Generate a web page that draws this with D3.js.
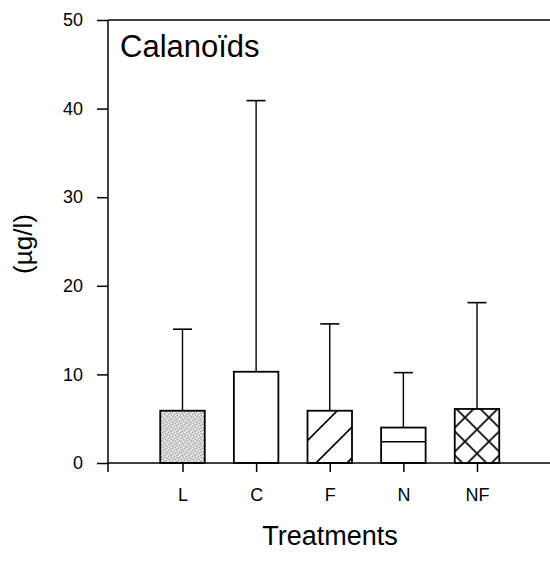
<!DOCTYPE html>
<html>
<head>
<meta charset="utf-8">
<script src="https://cdn.jsdelivr.net/npm/d3@7"></script>
<style>
  html, body { margin: 0; padding: 0; background: #fff; }
  svg { display: block; }
  text { font-family: "Liberation Sans", Arial, sans-serif; fill: #000; }
</style>
</head>
<body>
<div id="chart"></div>
<script>
// Calanoid biomass per treatment: bar = mean, whisker = upper range
const categories = ["L", "C", "F", "N", "NF"];
const means      = [5.9, 10.3, 5.9, 4.0, 6.1];
const uppers     = [15.1, 40.9, 15.7, 10.2, 18.1];
const medians    = [null, null, null, 2.4, null];
const fills      = ["stipple", "none", "hatch", "none", "cross"];
const yTicks     = [0, 10, 20, 30, 40, 50];

const W = 550, H = 564;
const plotLeft = 108, plotRight = 551, plotTop = 20, plotBottom = 463;

const svg = d3.select("#chart").append("svg")
  .attr("width", W).attr("height", H);

const defs = svg.append("defs");

// light grey stipple
const st = defs.append("pattern").attr("id", "stipple")
  .attr("patternUnits", "userSpaceOnUse").attr("width", 6).attr("height", 6);
st.append("rect").attr("width", 6).attr("height", 6).attr("fill", "#d6d6d6");
[[0,0],[3,1],[1,3],[4,4],[2,5],[5,2]].forEach(([a,b]) =>
  st.append("rect").attr("x", a).attr("y", b).attr("width", 1).attr("height", 1).attr("fill", "#999"));
[[1,1],[4,0],[0,4],[3,3],[5,5]].forEach(([a,b]) =>
  st.append("rect").attr("x", a).attr("y", b).attr("width", 1).attr("height", 1).attr("fill", "#f2f2f2"));

// single diagonal hatch
const sp = 31;
const ht = defs.append("pattern").attr("id", "hatch")
  .attr("patternUnits", "userSpaceOnUse").attr("width", sp).attr("height", sp)
  .attr("x", 4).attr("y", 0);
ht.append("path").attr("d", `M0,${sp} L${sp},0 M${-sp/2},${sp/2} L${sp/2},${-sp/2} M${sp/2},${sp*1.5} L${sp*1.5},${sp/2}`)
  .attr("stroke", "#000").attr("stroke-width", 1.6).attr("fill", "none");

// cross hatch
const cp = 24;
const cr = defs.append("pattern").attr("id", "cross")
  .attr("patternUnits", "userSpaceOnUse").attr("width", cp).attr("height", cp)
  .attr("x", 465 - cp/2).attr("y", 441.5 - cp/2);
cr.append("path").attr("d", `M0,0 L${cp},${cp} M0,${cp} L${cp},0`)
  .attr("stroke", "#000").attr("stroke-width", 1.6).attr("fill", "none");

const x = d3.scalePoint().domain(categories).range([182.5, 477]);
const y = d3.scaleLinear().domain([0, 50]).range([plotBottom, plotTop]);
const barW = 44.5, capW = 19;

// frame
svg.append("line").attr("x1", plotLeft).attr("x2", plotRight).attr("y1", plotTop).attr("y2", plotTop)
  .attr("stroke", "#000").attr("stroke-width", 1.5);

const data = categories.map((c, i) => ({ c, mean: means[i], up: uppers[i], med: medians[i], fill: fills[i] }));

// whiskers
const g = svg.append("g");
g.selectAll("line.wh").data(data).join("line").attr("class", "wh")
  .attr("x1", d => x(d.c)).attr("x2", d => x(d.c))
  .attr("y1", d => y(d.mean)).attr("y2", d => y(d.up))
  .attr("stroke", "#000").attr("stroke-width", 1.4);
g.selectAll("line.cap").data(data).join("line").attr("class", "cap")
  .attr("x1", d => x(d.c) - capW/2).attr("x2", d => x(d.c) + capW/2)
  .attr("y1", d => y(d.up)).attr("y2", d => y(d.up))
  .attr("stroke", "#000").attr("stroke-width", 1.6);

// bars
g.selectAll("rect.bar").data(data).join("rect").attr("class", "bar")
  .attr("x", d => x(d.c) - barW/2).attr("width", barW)
  .attr("y", d => y(d.mean)).attr("height", d => y(0) - y(d.mean))
  .attr("fill", d => d.fill === "none" ? "#fff" : `url(#${d.fill})`)
  .attr("stroke", "#000").attr("stroke-width", 1.8);

g.selectAll("line.med").data(data.filter(d => d.med != null)).join("line").attr("class", "med")
  .attr("x1", d => x(d.c) - barW/2).attr("x2", d => x(d.c) + barW/2)
  .attr("y1", d => y(d.med)).attr("y2", d => y(d.med))
  .attr("stroke", "#000").attr("stroke-width", 1.6);

// y axis
const yAxis = svg.append("g").attr("transform", `translate(${plotLeft},0)`)
  .call(d3.axisLeft(y).tickValues(yTicks).tickSize(11).tickPadding(14).tickFormat(d3.format("d")));
yAxis.select(".domain").remove();
yAxis.selectAll(".tick line").attr("stroke", "#000").attr("stroke-width", 1.5);
yAxis.selectAll(".tick text").style("font-size", "18px").attr("fill", "#000");
svg.append("line").attr("x1", plotLeft).attr("x2", plotLeft).attr("y1", plotTop).attr("y2", plotBottom + 9)
  .attr("stroke", "#000").attr("stroke-width", 1.5);

// x axis
const xAxis = svg.append("g").attr("transform", `translate(0,${plotBottom})`)
  .call(d3.axisBottom(x).tickSize(9).tickPadding(16));
xAxis.select(".domain").remove();
xAxis.selectAll(".tick line").attr("stroke", "#000").attr("stroke-width", 1.5);
xAxis.selectAll(".tick text").style("font-size", "18px").attr("fill", "#000");
svg.append("line").attr("x1", plotLeft).attr("x2", plotRight).attr("y1", plotBottom).attr("y2", plotBottom)
  .attr("stroke", "#000").attr("stroke-width", 1.5);

// titles
svg.append("text").attr("x", 120).attr("y", 57).style("font-size", "31px").text("Calanoïds");
svg.append("text").attr("x", 330).attr("y", 545).attr("text-anchor", "middle")
  .style("font-size", "27px").text("Treatments");
svg.append("text").attr("transform", "translate(32,244) rotate(-90)").attr("text-anchor", "middle")
  .style("font-size", "26px").text("(µg/l)");
</script>
</body>
</html>
